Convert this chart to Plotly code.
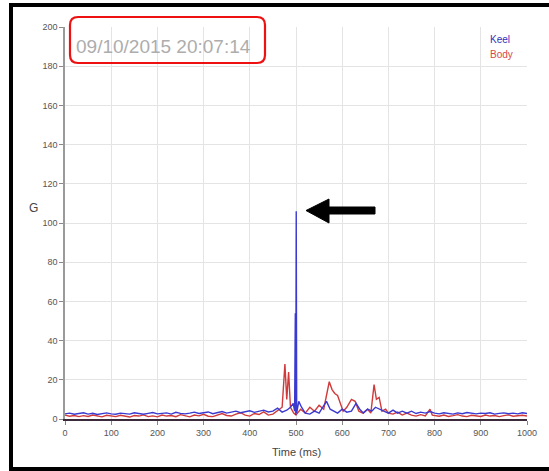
import plotly.graph_objects as go

# ---------------- data ----------------
body_t = list(range(0, 450, 10)) + [
    450, 460, 470, 476, 480, 484, 488, 495, 500, 505, 510, 520, 530, 540, 550,
    560, 566, 572, 578, 584, 590, 596, 602, 610, 620, 628, 636, 645, 655, 662,
    669, 674, 680, 686, 694, 700, 710, 720, 730, 740, 750, 760, 770, 780, 790, 795,
] + list(range(800, 1001, 10))
body_g = [
    2.0, 1.4, 1.8, 1.2, 1.7, 1.3, 2.0, 1.5, 1.1, 1.9, 1.6, 1.2, 1.9, 1.4, 1.0,
    1.8, 1.5, 2.1, 1.2, 1.6, 1.1, 2.0, 1.5, 1.8, 1.2, 2.2, 1.5, 1.1, 2.0, 1.6,
    2.4, 1.4, 1.2, 2.0, 2.8, 1.8, 1.5, 2.5, 3.2, 2.0, 1.5, 2.8, 2.3, 3.6, 2.0,
    2.5, 4.5, 6, 28, 10, 24, 6, 3, 2, 3.5, 5, 3, 6, 4, 7,
    5, 12, 19, 15, 13, 12, 8, 4, 6, 10, 9, 4, 3, 5, 3,
    17.5, 10, 11, 4, 5, 3, 2.5, 3.5, 2, 3, 2, 1.5, 2.2, 1.6, 5, 2,
    1.8, 1.4, 2.0, 1.3, 1.7, 2.2, 1.5, 1.2, 1.9, 1.6, 1.3, 2.0, 1.5, 1.8, 1.2,
    1.7, 2.1, 1.4, 1.6, 1.9, 1.5,
]

keel_t = list(range(0, 450, 10)) + [
    450, 460, 470, 480, 488, 494, 497, 498.5, 499.5, 500.5, 501.5, 506, 512, 520,
    530, 540, 550, 558, 566, 574, 582, 590, 600, 610, 620, 630, 638, 646, 655,
    664, 672, 680, 690, 700, 710, 720, 730, 740, 750, 760, 770, 780, 790,
] + list(range(800, 1001, 10))
keel_g = [
    2.6, 3.0, 2.4, 2.8, 3.2, 2.5, 2.9, 2.3, 2.7, 3.1, 2.6, 2.4, 3.0, 2.8, 2.5,
    3.2, 2.7, 2.4, 2.9, 3.3, 2.6, 2.8, 3.1, 2.5, 3.4, 2.9, 2.6, 3.0, 3.5, 2.8,
    3.1, 3.6, 2.7, 3.3, 3.8, 3.0, 3.5, 4.0, 3.2, 3.7, 4.2, 3.4, 4.0, 4.5, 3.6,
    4.0, 5.5, 3.5, 4.5, 6, 8, 4, 54, 2, 106, 3, 9, 6, 3,
    2.5, 4, 3, 6, 9, 5, 4, 3, 5, 3.5, 4, 8, 5, 3, 5,
    4, 6, 5, 4, 3, 4.5, 3, 4, 3, 4, 2.8, 3.5, 3, 3.8,
    3.0, 2.6, 3.2, 2.8, 2.5, 3.1, 2.7, 3.3, 2.9, 2.6, 3.0, 2.8, 3.2, 2.5, 2.9,
    3.1, 2.7, 3.0, 2.6, 3.2, 2.8,
]

x_ticks = [0, 100, 200, 300, 400, 500, 600, 700, 800, 900, 1000]
y_ticks = [0, 20, 40, 60, 80, 100, 120, 140, 160, 180, 200]
series_names = ["Keel", "Body"]
timestamp = "09/10/2015 20:07:14"

# ---------------- layout geometry ----------------
W, H = 549, 471
ML, MR, MT, MB = 65, 22, 27, 52
PW, PH = W - ML - MR, H - MT - MB


def px(x):
    return (x - ML) / PW


def py(y):
    return (H - MB - y) / PH


FONT = "Liberation Sans, Arial, sans-serif"
BLUE = "#3a3ad0"
RED = "#d03a3a"

fig = go.Figure()
fig.add_trace(go.Scatter(x=body_t, y=body_g, mode="lines", name=series_names[1],
                         line=dict(color=RED, width=1.4), showlegend=False))
fig.add_trace(go.Scatter(x=keel_t, y=keel_g, mode="lines", name=series_names[0],
                         line=dict(color=BLUE, width=1.4), showlegend=False))

shapes = []
# outer black frame (top, left, bottom) – the right edge is cut off in the source
shapes.append(dict(type="path", xref="paper", yref="paper",
                   path=f"M {px(W + 3)},{py(5)} L {px(11)},{py(5)} L {px(11)},{py(469)} L {px(W + 3)},{py(469)}",
                   line=dict(color="black", width=4)))

# red rounded box around the timestamp
x0, x1, y0, y1, r = 70, 265, 17, 63, 8
path = (f"M {px(x0 + r)},{py(y0)} L {px(x1 - r)},{py(y0)} "
        f"Q {px(x1)},{py(y0)} {px(x1)},{py(y0 + r)} L {px(x1)},{py(y1 - r)} "
        f"Q {px(x1)},{py(y1)} {px(x1 - r)},{py(y1)} L {px(x0 + r)},{py(y1)} "
        f"Q {px(x0)},{py(y1)} {px(x0)},{py(y1 - r)} L {px(x0)},{py(y0 + r)} "
        f"Q {px(x0)},{py(y0)} {px(x0 + r)},{py(y0)} Z")
shapes.append(dict(type="path", xref="paper", yref="paper", path=path,
                   line=dict(color="#ee1111", width=2.2)))

# black arrow pointing at the peak
pts = [(306, 210.5), (329, 199), (329, 207), (375, 207), (375, 214), (329, 214), (329, 223)]
apath = "M " + " L ".join(f"{px(a)},{py(b)}" for a, b in pts) + " Z"
shapes.append(dict(type="path", xref="paper", yref="paper", path=apath,
                   fillcolor="black", line=dict(color="black", width=1)))

annotations = [
    dict(text=timestamp, xref="paper", yref="paper", x=px(74), y=py(47), xanchor="left", yanchor="middle",
         showarrow=False, font=dict(family=FONT, size=19, color="#adadad")),
    dict(text=series_names[0], xref="paper", yref="paper", x=px(488), y=py(39), xanchor="left", yanchor="middle",
         showarrow=False, font=dict(family=FONT, size=10, color="#3030c0")),
    dict(text=series_names[1], xref="paper", yref="paper", x=px(488), y=py(54), xanchor="left", yanchor="middle",
         showarrow=False, font=dict(family=FONT, size=10, color="#d84848")),
    dict(text="G", xref="paper", yref="paper", x=px(33), y=py(208), xanchor="center", yanchor="middle",
         showarrow=False, font=dict(family=FONT, size=12, color="#444444")),
    dict(text="Time (ms)", xref="paper", yref="paper", x=px(296), y=py(452), xanchor="center", yanchor="middle",
         showarrow=False, font=dict(family=FONT, size=11, color="#444444")),
]

fig.update_layout(
    width=W, height=H,
    margin=dict(l=ML, r=MR, t=MT, b=MB, pad=0),
    paper_bgcolor="white", plot_bgcolor="white",
    font=dict(family=FONT, size=9, color="#555555"),
    shapes=shapes, annotations=annotations,
    xaxis=dict(range=[0, 1000], tickvals=x_ticks, ticktext=[str(v) for v in x_ticks],
               showgrid=True, gridcolor="#e4e4e4", gridwidth=1, zeroline=False,
               showline=True, linecolor="#3a2a3a", linewidth=2,
               ticks="outside", ticklen=4, tickcolor="#888888",
               tickfont=dict(family=FONT, size=9, color="#555555")),
    yaxis=dict(range=[0, 200], tickvals=y_ticks, ticktext=[str(v) for v in y_ticks],
               showgrid=True, gridcolor="#e4e4e4", gridwidth=1, zeroline=False,
               showline=True, linecolor="#9a9a9a", linewidth=1.5,
               ticks="outside", ticklen=4, tickcolor="#888888",
               tickfont=dict(family=FONT, size=9, color="#555555")),
)

fig.write_html(
    "out.html",
    config={"displayModeBar": False},
    post_script=(
        "var s=document.createElement('style');"
        "s.textContent='html,body{margin:0;padding:0;overflow:hidden;width:549px;height:471px;}"
        "::-webkit-scrollbar{display:none;}';"
        "document.head.appendChild(s);"
    ),
)
